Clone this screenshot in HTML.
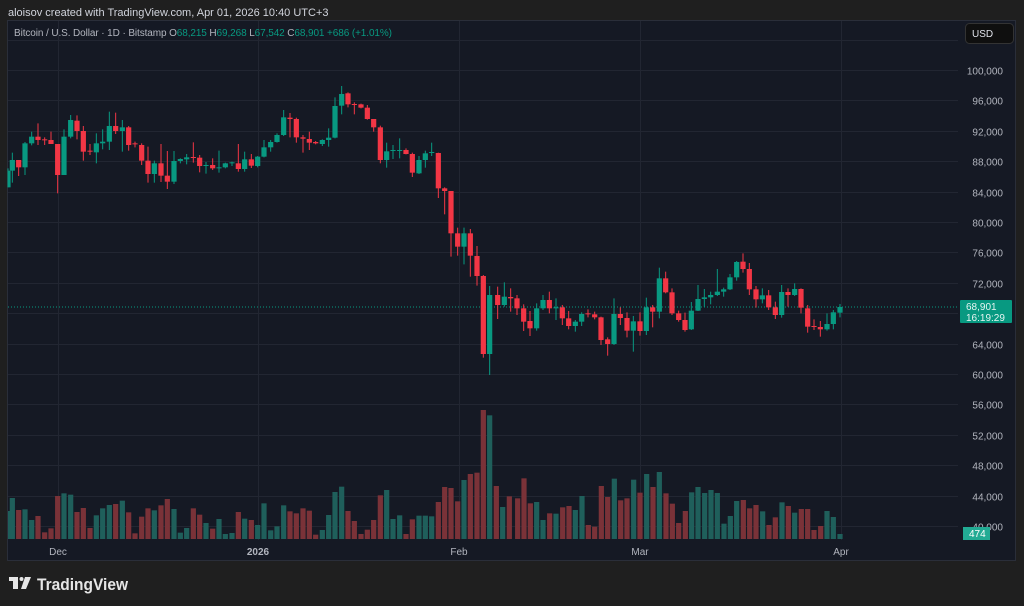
<!DOCTYPE html>
<html><head><meta charset="utf-8"><style>
html,body{margin:0;padding:0;background:#1f1f1f;width:1024px;height:606px;overflow:hidden}
svg{display:block}
text{font-family:"Liberation Sans",sans-serif}
</style></head><body>
<svg id="s" width="1024" height="606" xmlns="http://www.w3.org/2000/svg">
<rect width="1024" height="606" fill="#1f1f1f"/>
<text x="8" y="16" font-size="11" fill="#d1d4dc">aloisov created with TradingView.com, Apr 01, 2026 10:40 UTC+3</text>
<rect x="7.5" y="20.5" width="1008" height="540" fill="#151924" stroke="#2a2e39"/>
<g id="grid"></g>
<g id="vol"></g>
<line x1="8" x2="958" y1="307" y2="307" stroke="#089981" stroke-width="1" stroke-dasharray="1,2"/>
<g id="cnd"></g>
<text x="14" y="36" font-size="10" fill="#b2b5be" textLength="378" lengthAdjust="spacing">Bitcoin / U.S. Dollar · 1D · Bitstamp <tspan fill="#b2b5be">O</tspan><tspan fill="#089981">68,215</tspan> <tspan fill="#b2b5be">H</tspan><tspan fill="#089981">69,268</tspan> <tspan fill="#b2b5be">L</tspan><tspan fill="#089981">67,542</tspan> <tspan fill="#b2b5be">C</tspan><tspan fill="#089981">68,901</tspan> <tspan fill="#089981">+686 (+1.01%)</tspan></text>
<rect x="965.5" y="23.5" width="48" height="20" rx="4" fill="#0f0f0f" stroke="#333"/>
<text x="972" y="37" font-size="10" fill="#e0e3eb">USD</text>
<g id="labs"></g>
<rect x="960" y="300" width="52" height="23" rx="1" fill="#089981"/>
<text x="966" y="310" font-size="10" fill="#e6f5f2">68,901</text>
<text x="966" y="321" font-size="10" fill="#e6f5f2">16:19:29</text>
<rect x="963" y="527" width="27" height="13" fill="#22ab94"/>
<text x="969" y="537" font-size="10" fill="#fff">474</text>
<g font-size="10" fill="#b2b5be" text-anchor="middle">
<text x="58" y="555">Dec</text>
<text x="258" y="555" font-weight="bold">2026</text>
<text x="459" y="555">Feb</text>
<text x="640" y="555">Mar</text>
<text x="841" y="555">Apr</text>
</g>
<g fill="#e6e6e6">
<rect x="9" y="577" width="9" height="4"/><rect x="13" y="577" width="5" height="12"/>
<circle cx="21.5" cy="579" r="2"/>
<polygon points="25,577 31,577 26,589 21,589"/>
</g>
<text x="37" y="590" font-size="17" font-weight="bold" fill="#e6e6e6" textLength="91" lengthAdjust="spacingAndGlyphs">TradingView</text>
</svg>
<script>
const NS="http://www.w3.org/2000/svg";
function el(p,t,a){const e=document.createElementNS(NS,t);for(const k in a)e.setAttribute(k,a[k]);p.appendChild(e);return e;}
const g=document.getElementById('grid'),labs=document.getElementById('labs');
const Y=p=>70+(100000-p)*0.0076;
for(let p=104000;p>=40000;p-=4000){const y=Math.round(Y(p))+0.5;
 el(g,'line',{x1:8,x2:958,y1:y,y2:y,stroke:'#222632'});
 if(p<=100000){const t=el(labs,'text',{x:1003,y:y+4,'font-size':10,fill:'#b2b5be','text-anchor':'end'});t.textContent=p.toLocaleString('en-US');}}
[58,258,459,640,841].forEach(x=>el(g,'line',{x1:x+.5,x2:x+.5,y1:21,y2:540,stroke:'#222632'}));
const G='#089981',R='#f23645';
const c2=[[24,'g',272,322,265,322],[37,'g',240,272,218,308],[56,'r',240,262,240,288],[75,'g',190,262,186,285],[95,'g',170,190,155,196],[114,'r',170,180,130,195],[134,'r',178,181,172,195],[153,'r',180,192,155,192],[173,'r',192,285,192,340],[192,'g',170,285,148,285],[212,'g',120,170,105,175],[231,'r',122,153,106,178],[250,'r',153,215,138,242],[270,'r',212,215,192,225],[289,'g',190,217,160,250],[308,'g',185,190,148,208],[328,'g',138,185,95,210],[347,'r',138,153,98,162],[367,'g',142,153,120,215],[386,'r',142,195,138,212],[405,'r',190,193,185,202],[425,'r',195,242,190,255],[444,'r',242,282,200,308],[463,'g',250,282,242,308],[483,'r',250,287,192,306],[502,'r',287,305,213,327],[522,'g',243,305,213,312],[541,'g',237,243,235,250],[560,'g',232,238,222,253],[580,'r',231,234,187,248],[599,'r',233,258,225,277],[618,'g',255,258,246,281],[638,'r',255,265,235,270],[657,'g',262,265,212,278],[676,'g',250,262,248,265],[696,'g',247,249,245,258],[715,'r',250,267,192,275],[734,'g',238,267,215,275],[754,'r',238,257,222,264],[773,'g',230,258,228,262],[792,'g',202,230,180,232],[812,'g',186,202,180,215],[831,'g',165,186,160,188],[851,'g',112,165,90,168],[870,'r',113,117,99,172],[889,'r',117,172,113,188],[909,'r',172,176,165,218],[928,'r',177,188,155,210],[947,'r',186,190,183,193],[967,'g',180,192,178,198],[986,'g',173,180,145,200],[1005,'g',78,173,52,175],[1025,'g',42,77,18,103],[1044,'r',40,73,37,82],[1063,'r',72,75,67,103],[1083,'r',73,83,71,85],[1102,'r',83,117,75,119],[1121,'r',117,142,117,155],[1141,'r',142,240,137,250],[1160,'g',214,240,188,263],[1179,'g',210,212,195,237],[1199,'g',210,212,175,235],[1218,'r',210,222,205,223],[1237,'r',222,278,218,291],[1257,'g',240,280,228,282],[1276,'g',220,240,212,263],[1295,'g',216,219,188,228],[1315,'r',219,325,218,354],[1334,'r',325,333,322,403],[1353,'r',333,460,333,530],[1373,'r',460,500,443,527],[1392,'g',460,500,443,553],[1411,'r',460,527,447,590],[1431,'r',528,588,498,617],[1450,'r',588,822,585,833],[1469,'g',645,822,618,885]];
const c7=[[53,'r',165,195,140,237],[73,'g',170,195,127,200],[92,'r',171,175,145,215],[111,'r',175,205,165,225],[131,'r',205,245,193,273],[150,'r',243,265,213,288],[170,'g',205,265,190,272],[189,'g',180,205,165,210],[208,'r',180,205,155,220],[228,'g',202,203,175,240],[247,'r',202,235,195,255],[266,'r',235,258,213,268],[286,'g',245,258,240,275],[305,'g',222,245,217,258],[324,'r',220,222,208,232],[344,'r',223,232,215,238],[363,'r',232,300,230,315],[383,'r',298,312,292,347],[402,'g',222,312,175,315],[421,'r',222,234,202,255],[441,'r',234,272,217,292],[460,'g',244,272,228,335],[480,'r',244,273,217,287],[499,'g',202,273,173,285],[518,'r',202,215,195,262],[538,'g',115,215,83,235],[557,'r',115,157,95,160],[576,'r',157,220,145,225],[596,'r',220,240,212,245],[615,'r',240,270,218,275],[634,'g',212,268,186,270],[654,'g',177,212,135,213],[673,'g',172,177,147,200],[692,'g',165,172,155,193],[712,'g',155,165,87,168],[731,'g',148,155,143,170],[750,'g',112,148,102,150],[770,'g',66,112,63,122],[789,'r',65,87,40,98],[808,'r',87,148,69,165],[828,'r',148,178,138,203],[847,'g',166,178,145,190],[866,'r',166,202,150,210],[886,'r',202,225,185,237],[905,'g',156,225,135,233],[924,'r',156,165,145,200],[944,'g',147,165,130,168],[963,'r',147,203,145,220],[983,'r',205,260,195,278],[1002,'r',258,260,238,270],[1021,'r',261,268,243,290],[1041,'g',252,268,220,272],[1060,'g',217,252,210,268],[1080,'g',201,218,192,232]];
const cg=document.getElementById('cnd');
function draw(arr,ox,oy){arr.forEach(c=>{const x=ox+c[0]/3,col=c[1]=='g'?G:R;
 el(cg,'line',{x1:x,x2:x,y1:oy+c[4]/3,y2:oy+c[5]/3,stroke:col,'stroke-width':1});
 const bt=oy+c[2]/3,bb=oy+c[3]/3;
 const l=Math.max(x-2.6,8);el(cg,'rect',{x:l,y:bt,width:x+2.6-l,height:Math.max(bb-bt,1),fill:col});});}
draw(c2,0,80);draw(c7,480,240);
const VG='#1f5f5b',VR='#7a3238';
const v4=[[24,'g',333],[37,'g',294],[56,'r',330],[75,'g',328],[95,'g',360],[114,'r',348],[134,'r',397],[153,'r',385],[173,'r',288],[192,'g',280],[212,'g',284],[231,'r',336],[250,'r',324],[270,'r',384],[289,'g',346],[308,'g',325],[328,'g',315],[347,'r',312],[367,'g',302],[386,'r',337],[405,'r',400],[425,'r',350],[444,'r',325],[463,'g',331],[483,'r',316],[502,'r',297],[522,'g',327],[541,'g',398],[560,'g',384],[580,'r',325],[599,'r',344],[618,'g',369],[638,'r',386],[657,'g',357],[676,'g',402],[696,'g',399],[715,'r',336],[734,'g',356],[754,'r',360],[773,'g',375],[792,'g',310],[812,'g',391],[831,'g',379],[851,'g',316],[870,'r',334],[889,'r',340],[909,'r',325],[928,'r',332],[947,'r',404],[967,'g',390],[986,'g',345],[1005,'g',276],[1025,'g',260],[1044,'r',333],[1063,'r',363],[1083,'r',402],[1102,'r',389],[1121,'r',360],[1141,'r',286],[1160,'g',270],[1179,'g',357],[1199,'g',346],[1218,'r',402],[1237,'r',358],[1257,'g',347],[1276,'g',347],[1295,'g',349],[1315,'r',306],[1334,'r',261],[1353,'r',264],[1373,'r',304],[1392,'g',240],[1411,'r',222],[1431,'r',218],[1450,'r',30],[1469,'g',46],[1489,'r',258],[1508,'g',321],[1528,'r',289]];
const v5=[[17,'r',295],[36,'r',235],[55,'r',310],[74,'g',306],[93,'g',360],[113,'r',340],[132,'g',341],[152,'r',322],[171,'r',318],[190,'g',330],[210,'g',288],[229,'r',375],[248,'r',380],[268,'r',258],[287,'r',291],[307,'g',236],[326,'r',301],[345,'r',295],[365,'g',239],[384,'r',278],[404,'g',222],[423,'r',261],[442,'g',216],[462,'r',280],[481,'r',311],[500,'r',369],[520,'r',333],[539,'g',277],[558,'g',261],[578,'g',279],[597,'g',270],[616,'g',279],[636,'g',371],[655,'g',348],[674,'g',303],[694,'r',300],[713,'r',325],[732,'r',315],[752,'g',334],[771,'r',375],[790,'r',352],[810,'g',307],[829,'r',318],[848,'g',338],[868,'r',327],[887,'r',327],[906,'r',390],[926,'r',378],[945,'g',333],[964,'g',351],[984,'g',402]];
const vg=document.getElementById('vol');
function dv(arr,ox){arr.forEach(v=>{const x=ox+v[0]/3,t=400+v[2]/3;const l=Math.max(x-2.6,8);
 el(vg,'rect',{x:l,y:t,width:x+2.6-l,height:539-t,fill:v[1]=='g'?VG:VR});});}
dv(v4,0);dv(v5,512);
</script>
</body></html>
